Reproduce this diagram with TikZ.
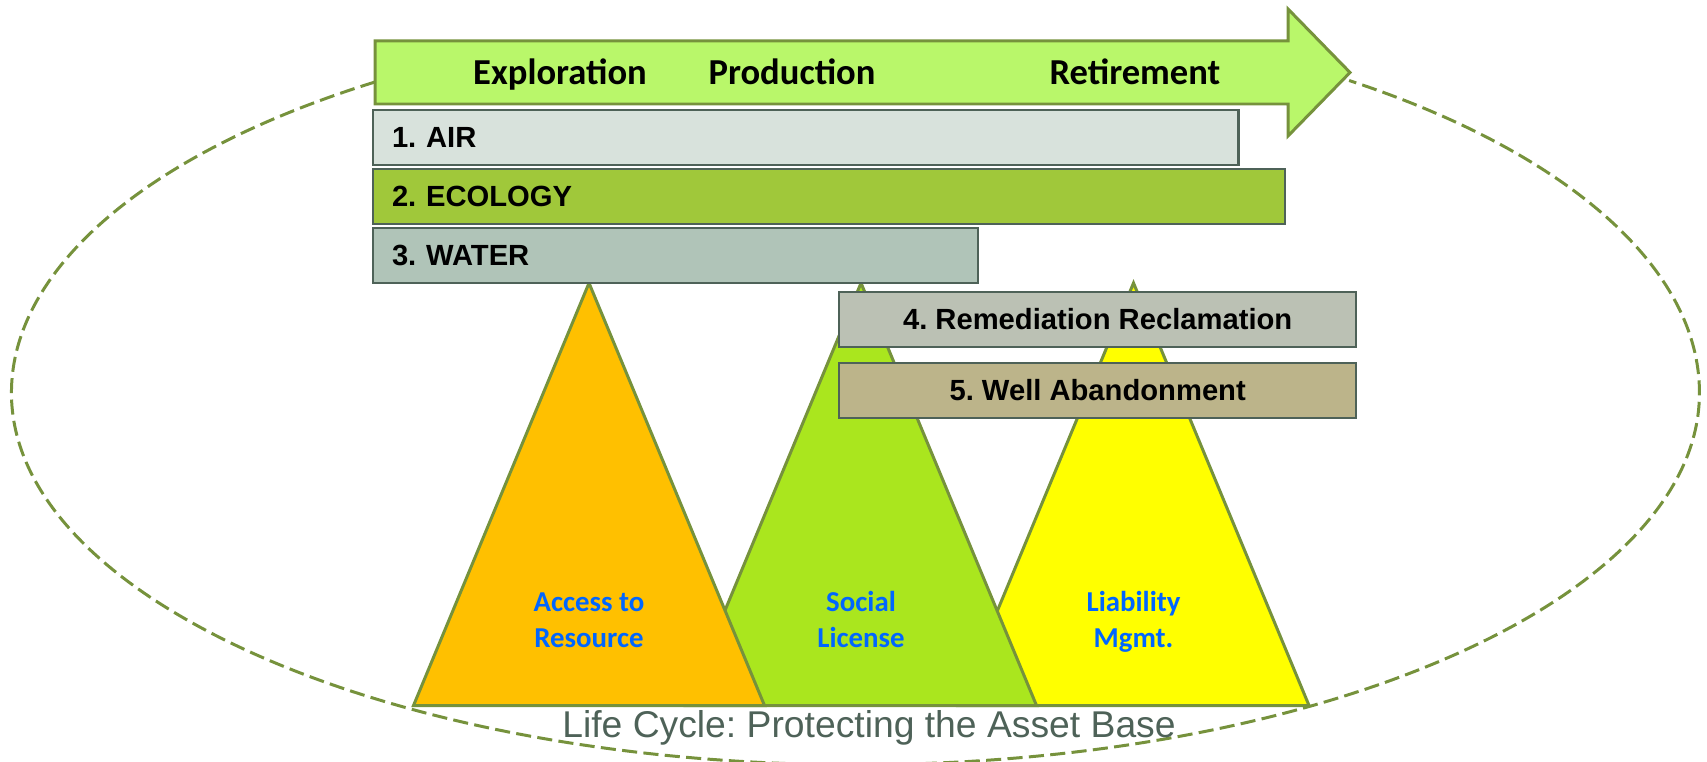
\documentclass[tikz,border=0pt]{standalone}
\usepackage{fontspec}
\setmainfont{Liberation Sans}
\newfontfamily\calibri{Carlito}
\usetikzlibrary{positioning}
\definecolor{lcgreen}{RGB}{118,146,60}
\definecolor{arrowfill}{RGB}{185,247,106}
\definecolor{boxline}{RGB}{78,98,88}
\definecolor{airfill}{RGB}{216,226,220}
\definecolor{ecofill}{RGB}{160,200,58}
\definecolor{waterfill}{RGB}{176,196,184}
\definecolor{remfill}{RGB}{187,193,180}
\definecolor{wellfill}{RGB}{188,180,138}
\definecolor{accessfill}{RGB}{255,192,0}
\definecolor{socialfill}{RGB}{170,230,30}
\definecolor{liabfill}{RGB}{255,255,0}
\definecolor{labelblue}{RGB}{0,102,255}
\definecolor{titlegray}{RGB}{78,98,88}
\tikzstyle{stage}=[draw=boxline,line width=0.6pt,anchor=north west,minimum height=0.55cm,inner xsep=0.19cm,inner ysep=0pt,outer sep=0pt,font=\bfseries\fontsize{8.3}{10}\selectfont]
\tikzstyle{phase}=[anchor=base,font=\calibri\bfseries\fontsize{10.4}{12}\selectfont]
\tikzstyle{peak}=[draw=lcgreen,line width=0.85pt,line join=miter]
\tikzstyle{peaklabel}=[align=center,text=labelblue,font=\calibri\bfseries\fontsize{8.2}{10.24}\selectfont]

\begin{document}
\frenchspacing
\begin{tikzpicture}[x=0.01cm,y=-0.01cm]
\useasboundingbox (0,0) rectangle (1707,761);
% life cycle loop
\coordinate (loopstart) at (375,82);
\draw[lcgreen,line width=0.85pt,dash pattern=on 4.3pt off 1.8pt] (loopstart)
  arc[start angle=-124.7,end angle=-180,x radius=844,y radius=378]
  arc[start angle=180,end angle=0,x radius=844,y radius=372]
  arc[start angle=0,end angle=-54.2,x radius=844,y radius=385];
% phase arrow
\draw[lcgreen,line width=0.85pt,fill=arrowfill,line join=miter] (375,41) -- (1288,41) -- (1288,9) -- (1350,72.5) -- (1288,136) -- (1288,104) -- (375,104) -- cycle;
\node (explore) [phase] at (560,85) {Exploration};
\node (produce) [phase] at (792,85) {Production};
\node (retire) [phase] at (1135,85) {Retirement};
% peaks
\draw[peak,fill=liabfill] (958,705.5) -- (1133.5,283) -- (1309,705.5) -- cycle;
\draw[peak,fill=socialfill] (685.5,705.5) -- (861,283) -- (1036.5,705.5) -- cycle;
\draw[peak,fill=accessfill] (413.5,705.5) -- (589,283) -- (764.5,705.5) -- cycle;
\node (access) [peaklabel] at (589,620) {Access to\\Resource};
\node (social) [peaklabel] at (861,619) {Social\\License};
\node (liability) [peaklabel] at (1133.5,622) {Liability\\Mgmt.};
% stages
\node (air) [stage,fill=airfill,text width=8.27cm,align=left] at (373,110) {1. AIR};
\node (ecology) [stage,fill=ecofill,text width=8.735cm,align=left,below=0.04cm of air.south west,anchor=north west] {2. ECOLOGY};
\node (water) [stage,fill=waterfill,text width=5.67cm,align=left,below=0.04cm of ecology.south west,anchor=north west] {3. WATER};
\node (remedy) [stage,fill=remfill,minimum width=5.17cm] at (839,292) {4. Remediation Reclamation};
\node (abandon) [stage,fill=wellfill,minimum width=5.17cm,below=0.16cm of remedy.south west,anchor=north west] {5. Well Abandonment};
\node (title) [anchor=base,text=titlegray,font=\fontsize{10.6}{12}\selectfont] at (869,737) {Life Cycle: Protecting the Asset Base};
\end{tikzpicture}
\end{document}
